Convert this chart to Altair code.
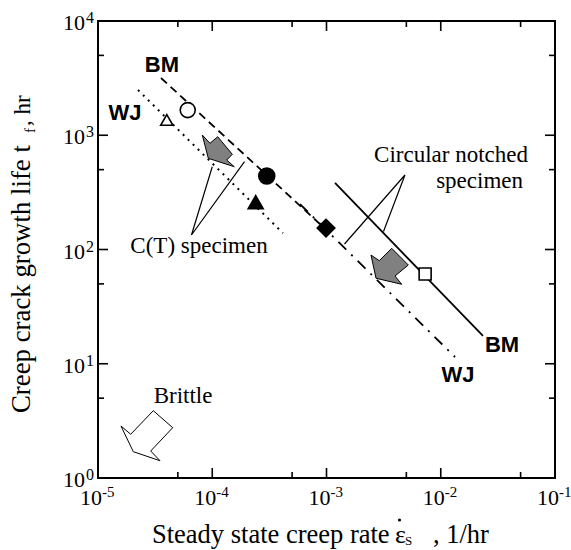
import altair as alt
import pandas as pd

W, H = 457, 457
SERIF = "Liberation Serif"
SANS = "Liberation Sans"

# ---------------- data ----------------
# markers
pt_series = ["BM C(T)", "WJ C(T)", "BM C(T) fill", "WJ C(T) fill", "WJ CN", "BM CN"]
pt_x = [6.1e-5, 4.0e-5, 3.0e-4, 2.4e-4, 9.9e-4, 7.3e-3]
pt_y = [1660, 1360, 440, 260, 154, 61]

# fitted lines (start, end)
bm_ct_x = [3.56e-5, 8.77e-4]
bm_ct_y = [3170, 167]
wj_ct_x = [2.24e-5, 4.16e-4]
wj_ct_y = [2489, 139]
bm_cn_x = [1.187e-3, 2.343e-2]
bm_cn_y = [382, 17.5]
wj_cn_x = [5.86e-4, 1.333e-2]
wj_cn_y = [250, 11.46]

# block arrows (polygon vertices)
arr_ct_x = [8.18e-5, 9.56e-5, 1.116e-4, 1.498e-4, 1.338e-4, 1.56e-4, 9.24e-5]
arr_ct_y = [1005, 850, 971, 681, 607, 530, 628]
arr_cn_x = [2.452e-3, 2.898e-3, 3.721e-3, 5.2e-3, 3.978e-3, 4.55e-3, 2.713e-3]
arr_cn_y = [89.5, 79.8, 102.4, 73.2, 58.6, 49.6, 56.0]
arr_br_x = [1.589e-5, 1.933e-5, 3.048e-5, 4.506e-5, 2.893e-5, 3.488e-5, 2.037e-5]
arr_br_y = [2.852, 2.413, 3.882, 2.756, 1.723, 1.417, 1.699]

# callout leader lines (end1, apex, end2)
call_ct_x = [1.0e-4, 6.58e-5, 1.916e-4]
call_ct_y = [530, 134, 587]
call_cn_x = [1.437e-3, 4.86e-3, 3.154e-3]
call_cn_y = [111.7, 449, 143.7]

# bold labels
bold_text = ["BM", "WJ", "BM", "WJ"]
bold_x = [3.63e-5, 1.72e-5, 3.437e-2, 1.416e-2]
bold_y = [4120, 1565, 14.6, 7.97]

# annotation texts
ann_text = ["C(T) specimen", "Brittle"]
ann_x = [7.66e-5, 5.55e-5]
ann_y = [93.2, 4.53]
cn_text = ["Circular notched", "specimen"]
cn_x = [5.803e-2, 5.247e-2]
cn_y = [583, 345]

# axes ticks / labels
x_major = [1e-5, 1e-4, 1e-3, 1e-2, 1e-1]
x_exp = ["-5", "-4", "-3", "-2", "-1"]
x_minor = [5e-5, 5e-4, 5e-3, 5e-2]
y_major = [1, 10, 100, 1000, 10000]
y_exp = ["0", "1", "2", "3", "4"]
y_minor = [5, 50, 500, 5000]

# ---------------- helpers ----------------
XS = alt.Scale(type="log", domain=[1e-5, 1e-1], nice=False)
YS = alt.Scale(type="log", domain=[1, 1e4], nice=False)


def xq(f="x"):
    return alt.X(f"{f}:Q", scale=XS, axis=None)


def yq(f="y"):
    return alt.Y(f"{f}:Q", scale=YS, axis=None)


def poly_df(xs, ys):
    xs2 = list(xs) + [xs[0]]
    ys2 = list(ys) + [ys[0]]
    return pd.DataFrame({"x": xs2, "y": ys2, "i": list(range(len(xs2)))})


layers = []


def line_layer(xs, ys, dash=None, width=1.8):
    kw = dict(color="black", strokeWidth=width)
    if dash:
        kw["strokeDash"] = dash
    return alt.Chart(pd.DataFrame({"x": xs, "y": ys})).mark_line(**kw).encode(x=xq(), y=yq())

layers.append(line_layer(bm_ct_x, bm_ct_y, [8, 5]))
layers.append(line_layer(wj_ct_x, wj_ct_y, [2, 5], 2))
layers.append(line_layer(bm_cn_x, bm_cn_y))
layers.append(line_layer(wj_cn_x, wj_cn_y, [11, 7, 2, 7]))


def callout(xs, ys):
    return (alt.Chart(pd.DataFrame({"x": xs, "y": ys, "i": [0, 1, 2]}))
            .mark_line(color="black", strokeWidth=1.2)
            .encode(x=xq(), y=yq(), order="i:O"))

layers.append(callout(call_ct_x, call_ct_y))
layers.append(callout(call_cn_x, call_cn_y))


def arrow(xs, ys, fill):
    return (alt.Chart(poly_df(xs, ys))
            .mark_line(fill=fill, stroke="black", strokeWidth=1, strokeJoin="miter")
            .encode(x=xq(), y=yq(), order="i:O"))

layers.append(arrow(arr_ct_x, arr_ct_y, "#808080"))
layers.append(arrow(arr_cn_x, arr_cn_y, "#808080"))
layers.append(arrow(arr_br_x, arr_br_y, "white"))

# markers
pts = pd.DataFrame({"s": pt_series, "x": pt_x, "y": pt_y})
marker_style = {
    "BM C(T)": dict(shape="circle", filled=True, fill="white", size=225),
    "WJ C(T)": dict(shape="triangle-up", filled=True, fill="white", size=150),
    "BM C(T) fill": dict(shape="circle", filled=True, fill="black", size=256),
    "WJ C(T) fill": dict(shape="triangle-up", filled=True, fill="black", size=225),
    "WJ CN": dict(shape="diamond", filled=True, fill="black", size=310),
    "BM CN": dict(shape="square", filled=True, fill="white", size=144),
}
for s, st in marker_style.items():
    layers.append(alt.Chart(pts).transform_filter(alt.datum.s == s)
                  .mark_point(stroke="black", strokeWidth=1.6, opacity=1, **st)
                  .encode(x=xq(), y=yq()))

# bold labels
layers.append(alt.Chart(pd.DataFrame({"t": bold_text, "x": bold_x, "y": bold_y}))
              .mark_text(font=SANS, fontWeight="bold", fontSize=22, align="center", baseline="middle")
              .encode(x=xq(), y=yq(), text="t:N"))

# annotation texts
layers.append(alt.Chart(pd.DataFrame({"t": ann_text, "x": ann_x, "y": ann_y}))
              .mark_text(font=SERIF, fontSize=23, align="center", baseline="alphabetic")
              .encode(x=xq(), y=yq(), text="t:N"))
layers.append(alt.Chart(pd.DataFrame({"t": cn_text, "x": cn_x, "y": cn_y}))
              .mark_text(font=SERIF, fontSize=23, align="right", baseline="alphabetic")
              .encode(x=xq(), y=yq(), text="t:N"))


# ticks (inward)
def ticks_x(vals, ln):
    df = pd.DataFrame({"x": vals})
    b = alt.Chart(df).mark_rule(color="black", strokeWidth=1.6).encode(
        x=xq(), y=alt.value(H), y2=alt.value(H - ln))
    t = alt.Chart(df).mark_rule(color="black", strokeWidth=1.6).encode(
        x=xq(), y=alt.value(0), y2=alt.value(ln))
    return [b, t]


def ticks_y(vals, ln):
    df = pd.DataFrame({"y": vals})
    l = alt.Chart(df).mark_rule(color="black", strokeWidth=1.6).encode(
        y=yq(), x=alt.value(0), x2=alt.value(ln))
    r = alt.Chart(df).mark_rule(color="black", strokeWidth=1.6).encode(
        y=yq(), x=alt.value(W), x2=alt.value(W - ln))
    return [l, r]

layers += ticks_x(x_major, 10) + ticks_x(x_minor, 6)
layers += ticks_y(y_major, 10) + ticks_y(y_minor, 6)

# tick labels
xl = pd.DataFrame({"x": x_major, "e": x_exp})
layers.append(alt.Chart(xl).mark_text(font=SERIF, fontSize=22, align="right", baseline="alphabetic",
                                      dx=4, text="10")
              .encode(x=xq(), y=alt.value(H + 27)))
layers.append(alt.Chart(xl).mark_text(font=SERIF, fontSize=15, align="left", baseline="alphabetic", dx=4)
              .encode(x=xq(), y=alt.value(H + 19), text="e:N"))
yl = pd.DataFrame({"y": y_major, "e": y_exp})
layers.append(alt.Chart(yl).mark_text(font=SERIF, fontSize=22, align="right", baseline="alphabetic",
                                      dy=9, text="10")
              .encode(y=yq(), x=alt.value(-13)))
layers.append(alt.Chart(yl).mark_text(font=SERIF, fontSize=16, align="left", baseline="alphabetic", dy=2)
              .encode(y=yq(), x=alt.value(-12), text="e:N"))

# axis titles
one = pd.DataFrame({"a": [0]})


def txt(text, x, y, size, angle=0, align="left"):
    kw = dict(font=SERIF, fontSize=size, align=align, baseline="alphabetic", text=text)
    if angle:
        kw["angle"] = angle
    return alt.Chart(one).mark_text(**kw).encode(x=alt.value(x), y=alt.value(y))

layers.append(txt("Steady state creep rate", 152 - 98, 543 - 21, 26.5))
layers.append(txt("\u03b5", 395 - 98, 543 - 21, 26))
layers.append(alt.Chart(one).mark_point(shape="circle", filled=True, color="black", size=10, opacity=1)
              .encode(x=alt.value(399.5 - 98), y=alt.value(520 - 21)))
layers.append(txt("S", 405 - 98, 545 - 21, 13))
layers.append(txt(", 1/hr", 433 - 98, 543 - 21, 26.5))

layers.append(txt("Creep crack growth life t", 30 - 98, 413 - 21, 26.8, angle=270))
layers.append(txt("f", 35 - 98, 133 - 21, 15, angle=270))
layers.append(txt(", hr", 30 - 98, 126 - 21, 23, angle=270))

chart = alt.layer(*layers).properties(
    width=W, height=H,
    padding={"left": 98, "top": 21, "right": 16, "bottom": 72},
    autosize="none",
).configure_view(stroke="black", strokeWidth=2)

chart.save("out.html", embed_options={"renderer": "svg", "actions": False})
